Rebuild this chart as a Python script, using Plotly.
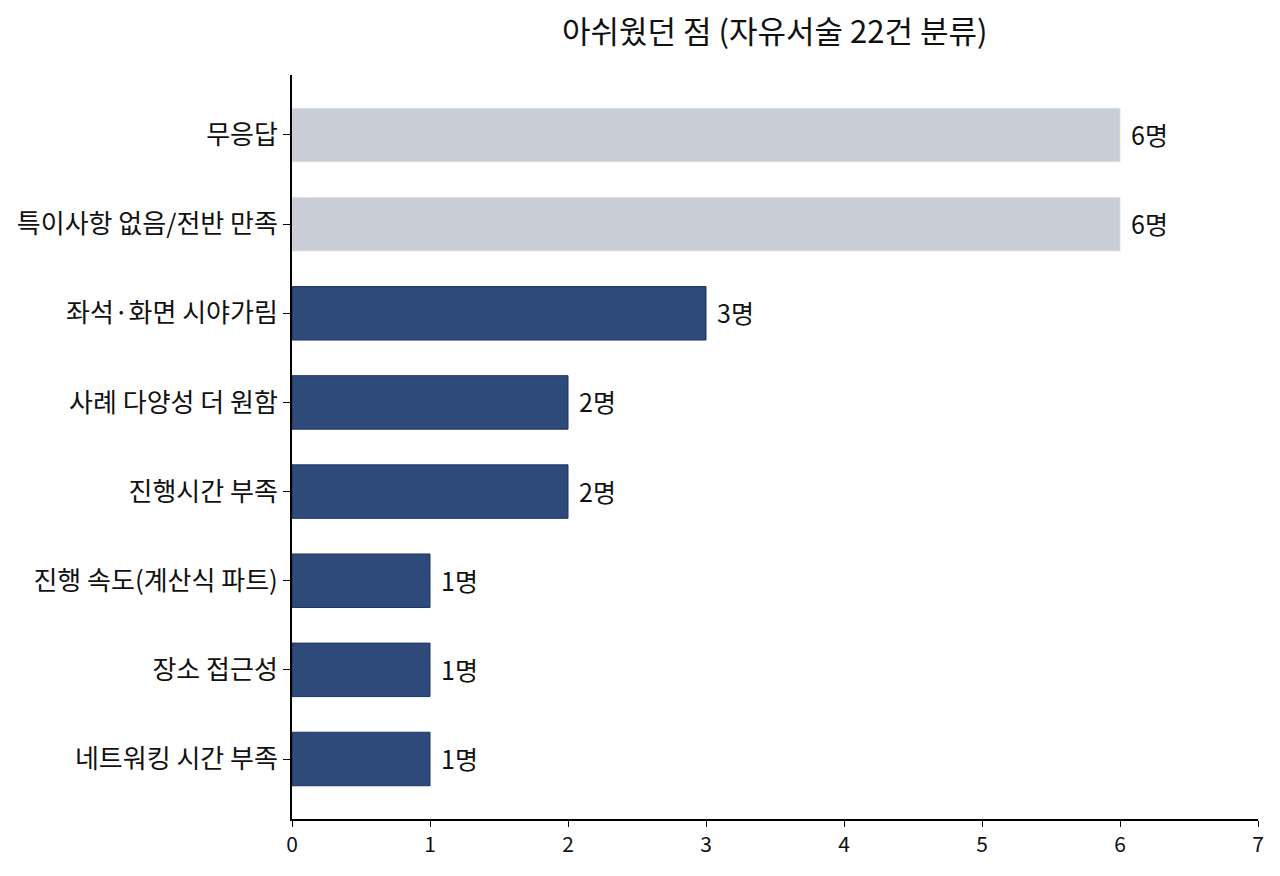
import plotly.graph_objects as go

categories = ["무응답", "특이사항 없음/전반 만족", "좌석·화면 시야가림", "사례 다양성 더 원함",
              "진행시간 부족", "진행 속도(계산식 파트)", "장소 접근성", "네트워킹 시간 부족"]
values = [6, 6, 3, 2, 2, 1, 1, 1]
value_labels = ["6명", "6명", "3명", "2명", "2명", "1명", "1명", "1명"]
is_neutral = [True, True, False, False, False, False, False, False]

fill_colors = ["#c8cdd6" if n else "#2d4a7a" for n in is_neutral]
line_colors = ["#dde1e7" if n else "#1b3461" for n in is_neutral]

FONT = "Noto Sans CJK KR"

fig = go.Figure()
fig.add_trace(go.Bar(
    y=categories, x=values, orientation="h", width=0.6,
    marker=dict(color=fill_colors, line=dict(color=line_colors, width=1)),
    hoverinfo="skip",
))
for c, v, t in zip(categories, values, value_labels):
    fig.add_annotation(x=v, y=c, text=t, showarrow=False, xanchor="left",
                       xshift=9, yshift=1, font=dict(family=FONT, size=25, color="#111111"))

fig.update_layout(
    width=1280, height=876,
    margin=dict(l=284, r=30, t=67, b=65),
    paper_bgcolor="white", plot_bgcolor="white",
    showlegend=False,
    title=dict(text="아쉬웠던 점 (자유서술 22건 분류)", x=0.599, xanchor="center",
               y=0.972, yanchor="middle",
               font=dict(family=FONT, size=31, color="#111111")),
    font=dict(family=FONT, color="#111111"),
)
fig.update_xaxes(range=[0, 7], dtick=1, tick0=0, showgrid=False, zeroline=False,
                 showline=True, linecolor="black", linewidth=1.8, automargin=False,
                 ticks="outside", ticklen=6, tickcolor="black", tickwidth=1.2,
                 tickfont=dict(family=FONT, size=21, color="#111111"))
fig.update_yaxes(autorange=False, range=[7.673, -0.673], categoryorder="array",
                 categoryarray=categories, showgrid=False, zeroline=False,
                 showline=True, linecolor="black", linewidth=1.8, automargin=False,
                 ticks="outside", ticklen=7, tickcolor="black", tickwidth=1.2,
                 tickfont=dict(family=FONT, size=26, color="#111111"))

fig.write_html("out.html")
